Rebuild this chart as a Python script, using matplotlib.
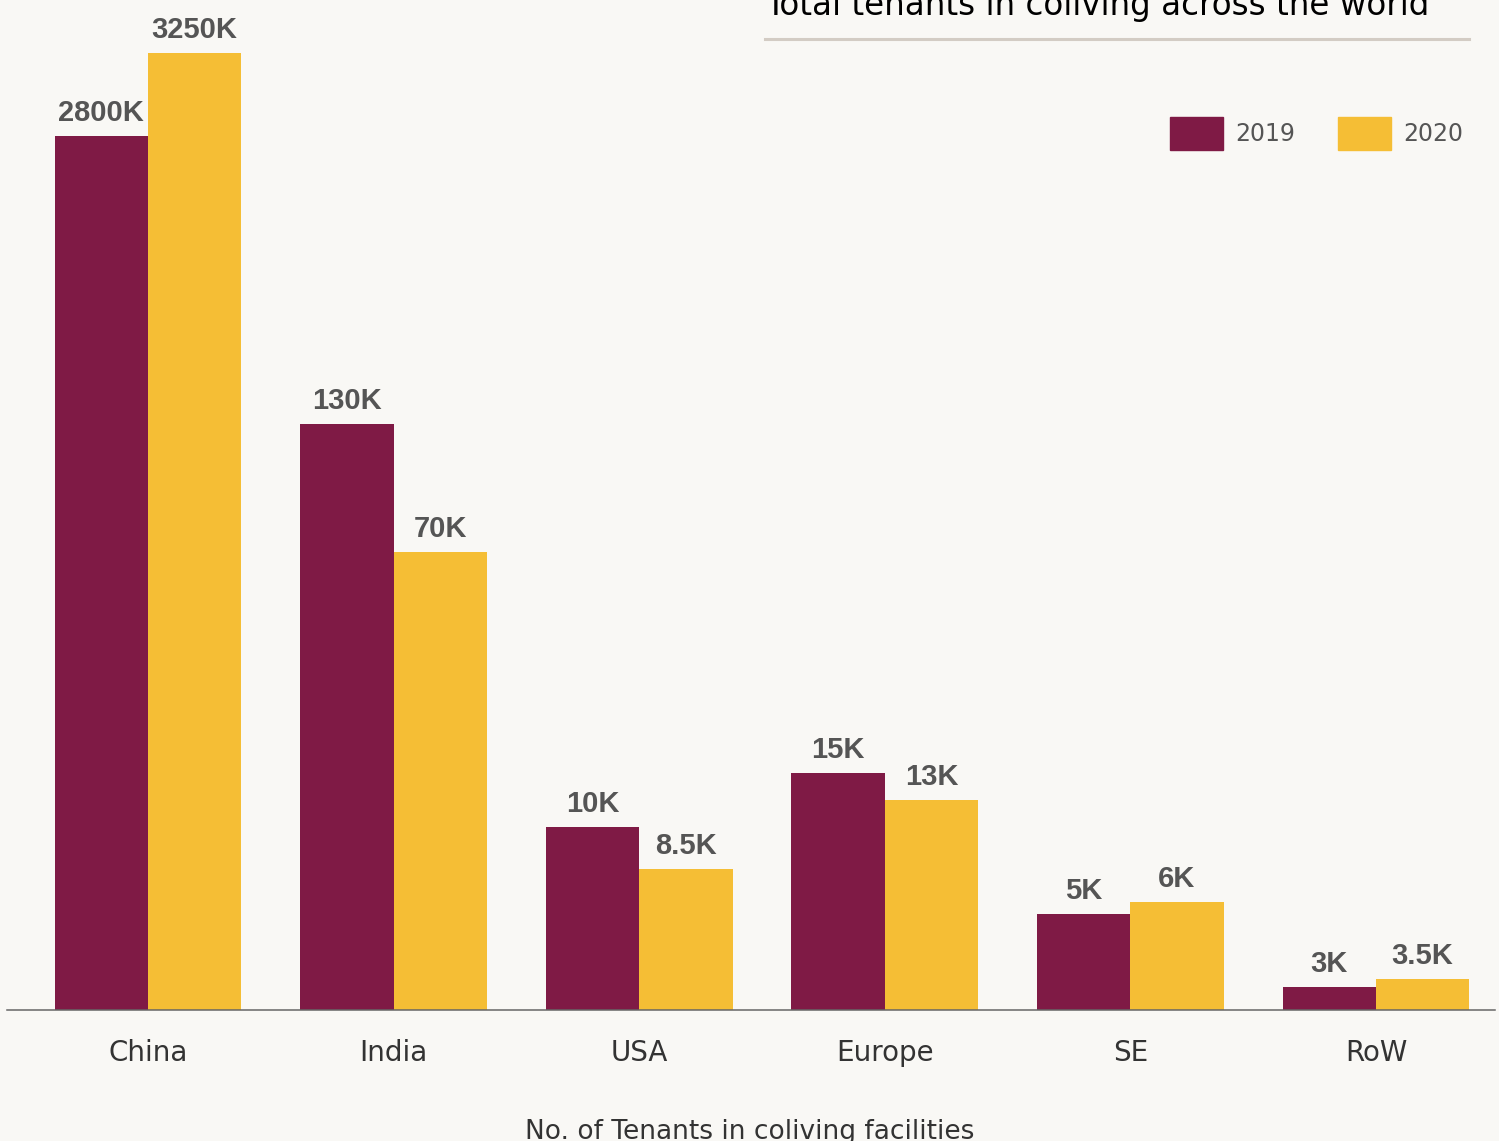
import numpy as np
import matplotlib.pyplot as plt
from matplotlib.patches import Rectangle

# chart data
regions = ["China", "India", "USA", "Europe", "SE", "RoW"]
series_names = ["2019", "2020"]
# the source chart does not draw bars to a linear scale, so the drawn
# heights are kept apart from the printed values
heights_2019 = [874, 586, 183, 237, 96, 23]
heights_2020 = [957, 458, 141, 210, 108, 31]
labels_2019 = ["2800K", "130K", "10K", "15K", "5K", "3K"]
labels_2020 = ["3250K", "70K", "8.5K", "13K", "6K", "3.5K"]

title = "Total tenants in coliving across the world"
xlabel = "No. of Tenants in coliving facilities"

c2019 = "#7f1a45"
c2020 = "#f5be35"
bg = "#f9f8f5"
font = ["DejaVu Sans"]
label_font = ["Liberation Sans", "DejaVu Sans"]

W, H = 1499, 1141
fig = plt.figure(figsize=(W / 100, H / 100), dpi=100, facecolor=bg)

# axes: baseline at y=1010 px, axis line from x=7 to x=1495 px
ax = fig.add_axes([7 / W, (H - 1010) / H, 1488 / W, 1010 / H])
ax.set_facecolor(bg)

x = np.arange(len(regions))
w = 0.38
b1 = ax.bar(x - w / 2, heights_2019, w, color=c2019)
b2 = ax.bar(x + w / 2, heights_2020, w, color=c2020)

for bars, labs in [(b1, labels_2019), (b2, labels_2020)]:
    for rect, lab in zip(bars, labs):
        ax.annotate(lab, (rect.get_x() + rect.get_width() / 2, rect.get_height()),
                    xytext=(0, 11), textcoords="offset points",
                    ha="center", va="baseline", fontsize=21, fontweight="bold",
                    color="#555555", family=label_font)

ax.set_xlim(-0.574, -0.574 + 1488 / 245.6)
ax.set_ylim(0, 1010)
for s in ["top", "right", "left"]:
    ax.spines[s].set_visible(False)
ax.spines["bottom"].set_color("#666666")
ax.spines["bottom"].set_linewidth(1.1)
ax.set_yticks([])
ax.set_xticks(x)
ax.set_xticklabels(regions, fontsize=20, color="#333333", family=font)
ax.tick_params(axis="x", length=0, pad=21)

# title, cut off at the top like the source
fig.text(765 / W, 1 - 15 / H, title, fontsize=23.5, color="black",
         family=font, va="baseline", ha="left")
fig.add_artist(plt.Line2D([765 / W, 1469 / W], [1 - 38.5 / H, 1 - 38.5 / H],
                          color="#d3ccc4", lw=2.2, transform=fig.transFigure))

# x axis caption, cut off at the bottom
fig.text(750 / W, 1 - 1139 / H, xlabel, fontsize=19, color="#333333",
         family=font, va="baseline", ha="center")

# legend
for name, col, sx, tx in [(series_names[0], c2019, 1170, 1235),
                          (series_names[1], c2020, 1338, 1403)]:
    fig.patches.append(Rectangle((sx / W, (H - 150) / H), 53 / W, 33 / H,
                                 color=col, transform=fig.transFigure))
    fig.text(tx / W, 1 - 134 / H, name, fontsize=17, color="#555555",
             family=font, va="center", ha="left")

plt.savefig("out.png", dpi=100, facecolor=bg)
